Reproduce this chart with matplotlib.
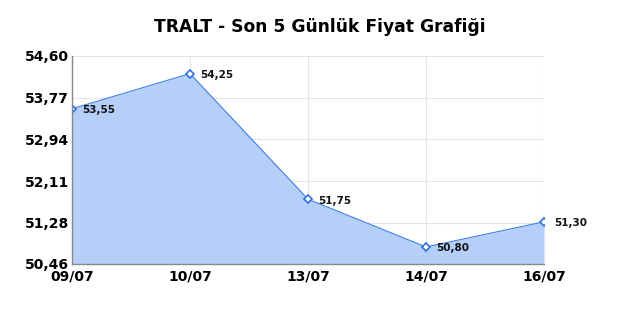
import matplotlib
matplotlib.use('Agg')
import matplotlib.pyplot as plt

dates = ['09/07', '10/07', '13/07', '14/07', '16/07']
prices = [53.55, 54.25, 51.75, 50.80, 51.30]
price_labels = ['53,55', '54,25', '51,75', '50,80', '51,30']
y_ticks = [50.46, 51.28, 52.11, 52.94, 53.77, 54.60]
y_tick_labels = ['50,46', '51,28', '52,11', '52,94', '53,77', '54,60']

fig = plt.figure(figsize=(6.4, 3.2), dpi=100)
ax = fig.add_axes([0.1125, 0.175, 0.7375, 0.65])

x = list(range(len(dates)))
ax.fill_between(x, prices, y_ticks[0], color='#b5cff8', linewidth=0)
ax.plot(x, prices, color='#3f7fe6', linewidth=0.8, marker='D', markersize=4,
        markerfacecolor='white', markeredgecolor='#2f6fe0', markeredgewidth=1.2)

for xi, p, lab in zip(x, prices, price_labels):
    ax.annotate(lab, (xi, p), xytext=(7, -1), textcoords='offset points',
                fontsize=7.5, fontweight='bold', color='#111111', va='center')

ax.set_xlim(0, len(dates) - 1)
ax.set_ylim(y_ticks[0], y_ticks[-1])
ax.set_xticks(x)
ax.set_xticklabels(dates, fontsize=10, fontweight='bold')
ax.set_yticks(y_ticks)
ax.set_yticklabels(y_tick_labels, fontsize=10, fontweight='bold')
ax.tick_params(length=0, pad=2)
ax.tick_params(axis='x', pad=4)

ax.grid(True, color='#e4e4e4', linewidth=0.8)
ax.set_axisbelow(True)
for s in ['top', 'right']:
    ax.spines[s].set_visible(False)
for s in ['left', 'bottom']:
    ax.spines[s].set_color('#888888')
    ax.spines[s].set_linewidth(1.0)

fig.suptitle('TRALT - Son 5 Günlük Fiyat Grafiği', fontsize=12.3, fontweight='bold',
             x=0.5, y=0.945)

fig.savefig('out.png', dpi=100)
